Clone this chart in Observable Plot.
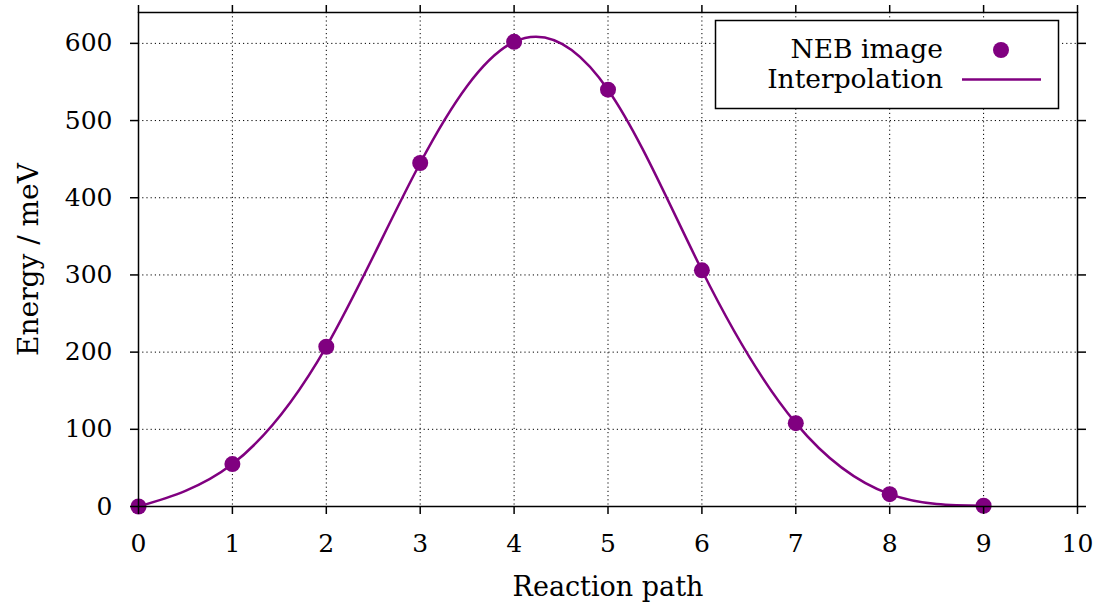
<!DOCTYPE html>
<html>
<head>
<meta charset="utf-8">
<script src="https://cdn.jsdelivr.net/npm/d3@7"></script>
<script src="https://cdn.jsdelivr.net/npm/@observablehq/plot@0.6"></script>
<style>
  html, body { margin: 0; padding: 0; background: white; }
  #chart { position: relative; width: 1093px; height: 603px; }
</style>
</head>
<body>
<div id="chart"></div>
<script>
const images = [0, 1, 2, 3, 4, 5, 6, 7, 8, 9];
const energies = [0, 55, 207, 445, 602, 540, 306, 108, 16, 1];
const xTicks = [0, 1, 2, 3, 4, 5, 6, 7, 8, 9, 10];
const yTicks = [0, 100, 200, 300, 400, 500, 600];
const xLabel = "Reaction path";
const yLabel = "Energy / meV";
const seriesNames = ["NEB image", "Interpolation"];

const data = images.map((x, i) => ({x, e: energies[i]}));
const purple = "#800080";
const font = "DejaVu Serif";

const plot = Plot.plot({
  width: 1093,
  height: 603,
  marginLeft: 138,
  marginRight: 16,
  marginTop: 12,
  marginBottom: 97,
  x: {domain: [0, 10]},
  y: {domain: [0, 640]},
  style: {fontFamily: font, fontSize: "25px", color: "black", background: "white"},
  marks: [
    Plot.gridX(xTicks, {stroke: "black", strokeOpacity: 1, strokeWidth: 1, strokeDasharray: "1.2,3"}),
    Plot.gridY(yTicks, {stroke: "black", strokeOpacity: 1, strokeWidth: 1, strokeDasharray: "1.2,3"}),
    Plot.line(data, {x: "x", y: "e", curve: "natural", stroke: purple, strokeWidth: 2.5}),
    Plot.dot(data, {x: "x", y: "e", r: 8, fill: purple}),
    Plot.frame({stroke: "black", strokeWidth: 1.5}),
    Plot.axisX(xTicks, {anchor: "bottom", tickSize: 8, tickPadding: 20, strokeWidth: 1.5, label: null, fontSize: 25}),
    Plot.axisX(xTicks, {anchor: "top", tickSize: 8, strokeWidth: 1.5, tickFormat: () => "", label: null}),
    Plot.axisY(yTicks, {anchor: "left", tickSize: 8, tickPadding: 18, strokeWidth: 1.5, label: null, fontSize: 25}),
    Plot.axisY(yTicks, {anchor: "right", tickSize: 8, strokeWidth: 1.5, tickFormat: () => "", label: null}),
    Plot.text([xLabel], {frameAnchor: "bottom", dy: 89, lineAnchor: "bottom", textAnchor: "middle", fontSize: 27}),
    Plot.text([yLabel], {frameAnchor: "left", dx: -101, rotate: -90, lineAnchor: "bottom", textAnchor: "middle", fontSize: 28})
  ]
});

document.getElementById("chart").appendChild(plot);

// Legend (gnuplot-style key box, top right)
const svg = d3.select(plot);
const g = svg.append("g").attr("font-family", font).attr("font-size", 26.5);
g.append("rect").attr("x", 715.5).attr("y", 20.5).attr("width", 343).attr("height", 88)
  .attr("fill", "white").attr("stroke", "black").attr("stroke-width", 1.5);
g.append("text").attr("x", 943).attr("y", 58).attr("text-anchor", "end").text(seriesNames[0]);
g.append("text").attr("x", 943).attr("y", 88).attr("text-anchor", "end").text(seriesNames[1]);
g.append("circle").attr("cx", 1001).attr("cy", 50).attr("r", 8).attr("fill", purple);
g.append("line").attr("x1", 962).attr("x2", 1041).attr("y1", 79.5).attr("y2", 79.5)
  .attr("stroke", purple).attr("stroke-width", 2.5);
</script>
</body>
</html>
